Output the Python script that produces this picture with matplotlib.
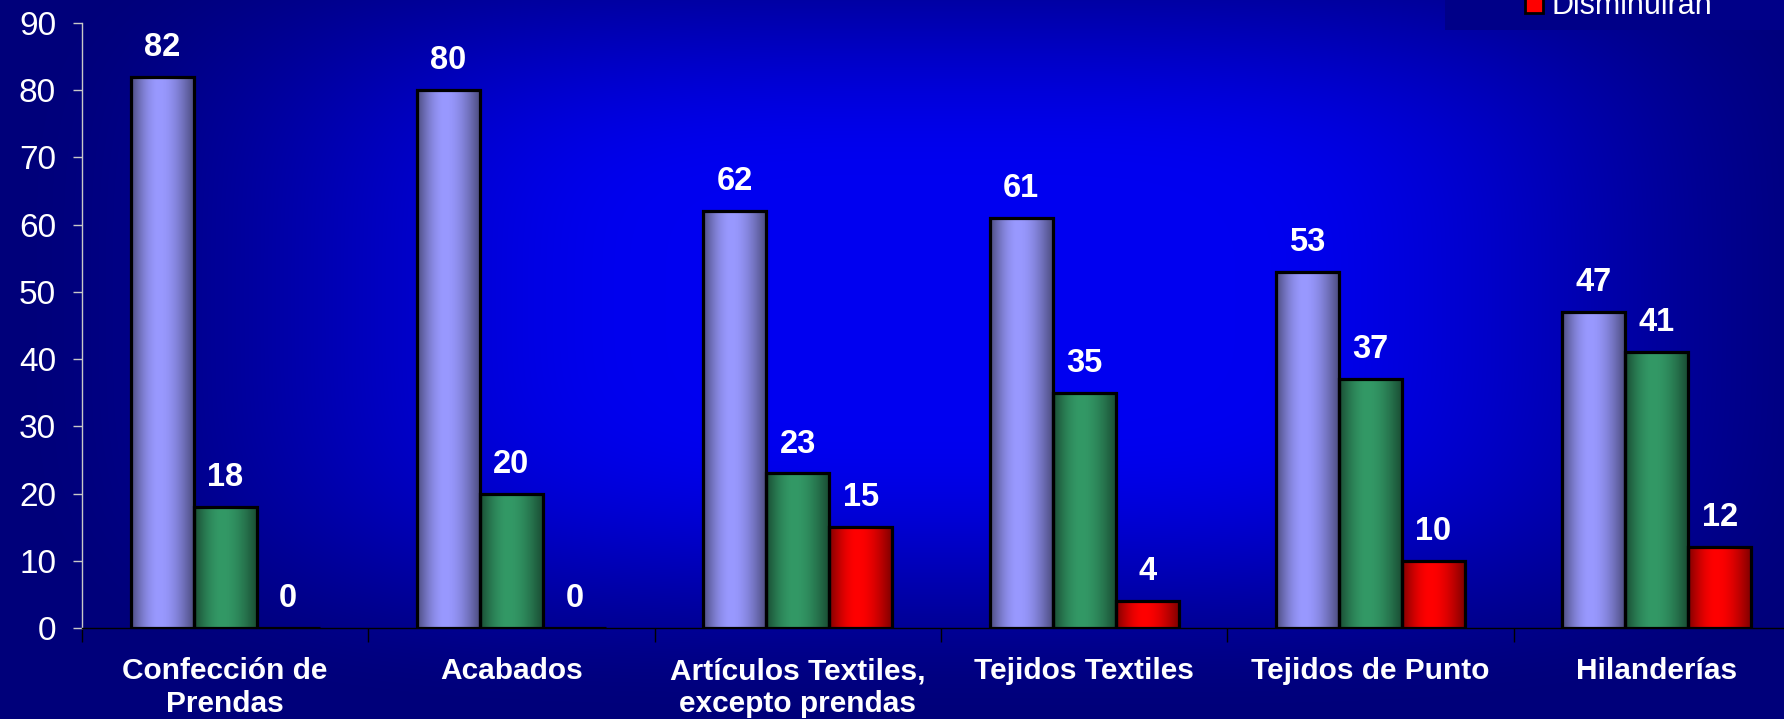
import numpy as np
import matplotlib
matplotlib.use("Agg")
import matplotlib.pyplot as plt
from matplotlib.patches import Rectangle, Patch

# ---- data ----
categories = ['Confección de\nPrendas', 'Acabados', 'Artículos Textiles,\nexcepto prendas',
              'Tejidos Textiles', 'Tejidos de Punto', 'Hilanderías']
series_names = ['Aumentarán', 'Se mantendrán', 'Disminuirán']
aumentaran = [82, 80, 62, 61, 53, 47]
mantendran = [18, 20, 23, 35, 37, 41]
disminuiran = [0, 0, 15, 4, 10, 12]
y_ticks = [0, 10, 20, 30, 40, 50, 60, 70, 80, 90]

colors = ['#9999FF', '#339966', '#FF0000']

W, H = 1784, 719
DPI = 100
plt.rcParams['font.family'] = ['Liberation Sans', 'DejaVu Sans']

fig = plt.figure(figsize=(W / DPI, H / DPI), dpi=DPI)

# ---- background gradient ----
bg = fig.add_axes([0, 0, 1, 1], zorder=-5)
bg.set_axis_off()
xx, yy = np.meshgrid(np.arange(W), np.arange(H))
cx, cy = 950.0, 300.0
ax_r, ay_r = 950.0, 420.0
p = 4.0
r = (np.abs((xx - cx) / ax_r) ** p + np.abs((yy - cy) / ay_r) ** p) ** (1 / p)
t = np.clip((r - 0.3) / 0.7, 0, 1)
s = t * t * (3 - 2 * t)
f = 1 - s
lo, hi = 122 / 255, 240 / 255
img = np.zeros((H, W, 3))
img[..., 2] = lo + (hi - lo) * f
bg.imshow(img, extent=[0, 1, 0, 1], aspect='auto', origin='upper', interpolation='bilinear')
bg.set_xlim(0, 1)
bg.set_ylim(0, 1)

# ---- main axes ----
left = 82 / W
right_px = 1800
bottom = 1 - 628 / H
top = 1 - 22.8 / H
ax = fig.add_axes([left, bottom, (right_px - 82) / W, top - bottom], zorder=1)
ax.set_facecolor('none')

x = np.arange(len(categories))
bw = 0.22
data = [aumentaran, mantendran, disminuiran]
offsets = [-bw, 0, bw]


def shade(base, n=200, peak=0.45):
    tt = np.linspace(0, 1, n)
    u = np.where(tt < peak, (peak - tt) / peak, (tt - peak) / (1 - peak))
    fac = 0.5 + 0.5 * np.cos(np.pi / 2 * u)
    rgb = np.array(matplotlib.colors.to_rgb(base))
    return (fac[:, None] * rgb[None, :])[None, :, :]


for vals, off, col, name in zip(data, offsets, colors, series_names):
    bars = ax.bar(x + off, vals, width=bw, facecolor='none', edgecolor='black',
                  linewidth=2.3, zorder=3, label=name)
    grad = shade(col)
    for patch, v in zip(bars.patches, vals):
        bx, by = patch.get_x(), patch.get_y()
        w, h = patch.get_width(), patch.get_height()
        if h > 0:
            ax.imshow(grad, extent=[bx, bx + w, by, by + h], aspect='auto',
                      zorder=2, interpolation='bilinear')
        ax.annotate(str(v), (bx + w / 2, v), xytext=(0, 15), textcoords='offset points',
                    ha='center', va='baseline', fontsize=23.5, fontweight='bold',
                    color='white', zorder=4, annotation_clip=False)

ax.set_xlim(-0.5, len(categories) - 0.5)
ax.set_ylim(0, 90)
ax.set_aspect('auto')

ax.set_yticks(y_ticks)
ax.set_yticklabels([str(v) for v in y_ticks])
ax.tick_params(axis='y', direction='out', length=6.5, width=1, color='#c8c8c8',
               labelcolor='white', labelsize=24, pad=12.2)

ax.set_xticks(x)
ax.set_xticklabels(categories, fontsize=21.5, fontweight='bold', color='white',
                   linespacing=1.2)
ax.set_xticks(np.arange(-0.5, len(categories), 1.0), minor=True)
ax.tick_params(axis='x', which='major', length=0, pad=21)
ax.tick_params(axis='x', which='minor', length=10, width=1, color='black', direction='out')

for sp in ['top', 'right']:
    ax.spines[sp].set_visible(False)
ax.spines['left'].set_color('#c8c8c8')
ax.spines['left'].set_linewidth(1)
ax.spines['bottom'].set_color('black')
ax.spines['bottom'].set_linewidth(1)

# ---- legend (only the bottom entry is visible in the cropped reference) ----
fig.patches.append(Rectangle((1445 / W, 1 - 29.7 / H), (W - 1445) / W + 0.01, 29.7 / H + 0.01,
                             transform=fig.transFigure, facecolor='#000088',
                             edgecolor='none', zorder=5))
fig.legend(handles=[Patch(facecolor='#FF0000', edgecolor='black', linewidth=2)],
           labels=[series_names[2]], loc='lower left',
           bbox_to_anchor=(1525 / W, 1 - 21 / H), bbox_transform=fig.transFigure,
           frameon=False, borderpad=0, borderaxespad=0, handlelength=0.6,
           handleheight=0.6, handletextpad=0.28, fontsize=22, labelcolor='white')

fig.savefig('out.png', dpi=DPI)
